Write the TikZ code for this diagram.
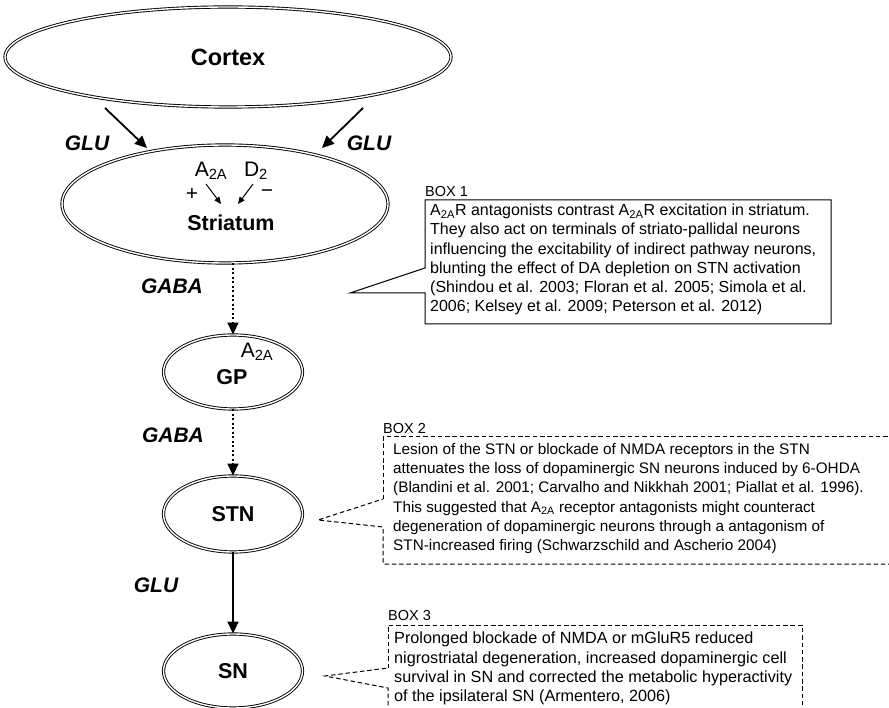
\documentclass[tikz,border=0pt]{standalone}
\usepackage{fontspec}
\setmainfont{Liberation Sans}
\usetikzlibrary{shapes.geometric,arrows.meta}

\begin{document}
\begin{tikzpicture}[x=1pt,y=-1pt,
  oval/.style={ellipse, draw, double, double distance=1.4pt, line width=0.9pt,
               inner sep=0pt, font=\fontsize{21}{24}\selectfont\bfseries},
  pathlabel/.style={font=\fontsize{21}{24}\selectfont\bfseries\itshape},
  rcpt/.style={font=\fontsize{21}{24}\selectfont, inner sep=0pt},
  flow/.style={line width=1.8pt, -{Triangle[length=12pt,width=11pt]}},
  dotflow/.style={flow, dash pattern=on 1.9pt off 2.6pt},
  tiny/.style={line width=1pt, -{Triangle[length=7pt,width=6pt]}},
  boxtitle/.style={font=\fontsize{14.5}{17}\selectfont, anchor=south west, inner sep=0pt},
  boxtext/.style={anchor=north west, align=left, inner sep=0pt},
  solidedge/.style={line width=1pt},
  dashedge/.style={line width=1pt, dash pattern=on 4.5pt off 2.8pt}
]
\useasboundingbox (0,0) rectangle (889,708);
\clip (0,0) rectangle (889,708);

% --- nuclei of the circuit
\node[oval, minimum width=446pt, minimum height=100pt, font=\fontsize{23.5}{26}\selectfont\bfseries] (cortex) at (228,57) {Cortex};
\node[oval, minimum width=326pt, minimum height=118pt] (striatum) at (225,204) {};
\node[font=\fontsize{21.5}{24}\selectfont\bfseries] (strlab) at (231,223) {Striatum};
\node[oval, minimum width=139pt, minimum height=74pt] (gp) at (233,372) {};
\node[font=\fontsize{21.5}{24}\selectfont\bfseries] (gplab) at (232,377) {GP};
\node[oval, minimum width=139pt, minimum height=76pt, font=\fontsize{21.5}{24}\selectfont\bfseries] (stn) at (233,514) {STN};
\node[oval, minimum width=139pt, minimum height=74pt, font=\fontsize{21.5}{24}\selectfont\bfseries] (sn) at (233,671) {SN};

% --- receptors
\node[rcpt] (a2a) at (211,171) {A\textsubscript{2A}};
\node[rcpt] (d2) at (256,171) {D\textsubscript{2}};
\node[rcpt] (plus) at (192,194) {+};
\node[rcpt] (minus) at (267,194) {\textminus};
\node[rcpt] (a2agp) at (257,352) {A\textsubscript{2A}};
\coordinate (a2aend) at (221,204);
\coordinate (d2end) at (238,204);
\draw[tiny] (206,184) -- (a2aend);
\draw[tiny] (253,184) -- (d2end);

% --- projections
\coordinate (cl) at (105,108);
\coordinate (cr) at (363,108);
\coordinate (sl) at (147,148);
\coordinate (sr) at (322,148);
\draw[flow] (cl) -- (sl);
\draw[flow] (cr) -- (sr);
\node[pathlabel] (glu1) at (87,143) {GLU};
\node[pathlabel] (glu2) at (369,143) {GLU};

\draw[dotflow] (striatum.south -| gp.north) -- (gp.north);
\node[pathlabel] (gaba1) at (172,286) {GABA};
\draw[dotflow] (gp.south) -- (stn.north);
\node[pathlabel] (gaba2) at (173,435) {GABA};
\draw[flow] (stn.south) -- (sn.north);
\node[pathlabel] (glu3) at (156,585) {GLU};

% --- BOX 1
\node[boxtitle] (t1) at (425,197) {BOX 1};
\coordinate (b1tip) at (350,293);
\coordinate (b1nw) at (425,200);
\coordinate (b1se) at (831,324);
\draw[solidedge] (425,268) -- (b1nw) -- (b1nw -| b1se) -- (b1se) -- (b1se -| b1nw) -- (425,293) -- (b1tip) -- cycle;
\node[boxtext, font=\fontsize{16}{19.2}\selectfont] (box1) at (430,204)
 {A\textsubscript{2A}R antagonists contrast A\textsubscript{2A}R excitation in striatum.\\
  They also act on terminals of striato-pallidal neurons\\
  influencing the excitability of indirect pathway neurons,\\
  blunting the effect of DA depletion on STN activation\\
  (Shindou et al. 2003; Floran et al. 2005; Simola et al.\\
  2006; Kelsey et al. 2009; Peterson et al. 2012)};

% --- BOX 2
\node[boxtitle] (t2) at (383,434) {BOX 2};
\coordinate (b2tip) at (318,520);
\draw[dashedge] (383,499) -- (383,437) -- (900,437);
\draw[dashedge] (900,564) -- (383,564) -- (383,527) -- (b2tip) -- (383,499);
\node[boxtext, font=\fontsize{15.3}{19.3}\selectfont] (box2) at (393,443)
 {Lesion of the STN or blockade of NMDA receptors in the STN\\
  attenuates the loss of dopaminergic SN neurons induced by 6-OHDA\\
  (Blandini et al. 2001; Carvalho and Nikkhah 2001; Piallat et al. 1996).\\
  This suggested that A\textsubscript{2A} receptor antagonists might counteract\\
  degeneration of dopaminergic neurons through a antagonism of\\
  STN-increased firing (Schwarzschild and Ascherio 2004)};

% --- BOX 3
\node[boxtitle] (t3) at (388,621) {BOX 3};
\coordinate (b3tip) at (325,676);
\draw[dashedge] (388,668) -- (388,625) -- (802,625) -- (802,720);
\draw[dashedge] (388,720) -- (388,688) -- (b3tip) -- (388,668);
\node[boxtext, font=\fontsize{16.2}{19.2}\selectfont] (box3) at (394,632)
 {Prolonged blockade of NMDA or mGluR5 reduced\\
  nigrostriatal degeneration, increased dopaminergic cell\\
  survival in SN and corrected the metabolic hyperactivity\\
  of the ipsilateral SN (Armentero, 2006)};
\end{tikzpicture}
\end{document}
